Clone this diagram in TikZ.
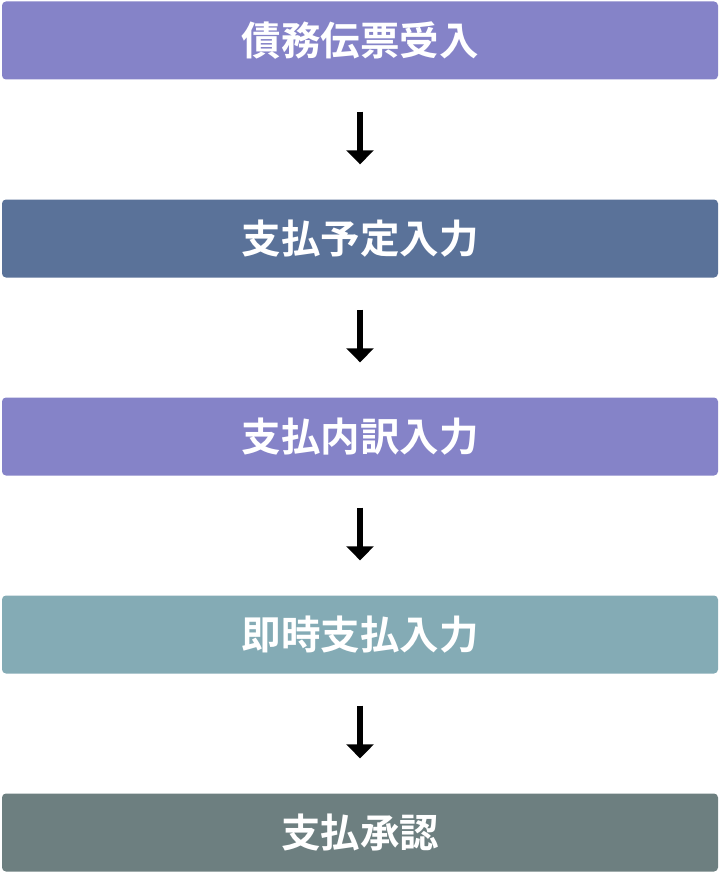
\documentclass[tikz,border=0pt]{standalone}
\usepackage{fontspec}
\newfontfamily\cjk{Noto Sans CJK JP}[BoldFont={Noto Sans CJK JP Bold}]
\usetikzlibrary{arrows.meta}
\definecolor{cpurple}{HTML}{8583C8}
\definecolor{cnavy}{HTML}{5A7299}
\definecolor{cteal}{HTML}{84ABB5}
\definecolor{cgray}{HTML}{6D7F80}
\tikzset{
  stepbox/.style={rectangle, rounded corners=4pt, minimum width=716pt, minimum height=78pt,
    inner sep=0pt, text=white, font=\cjk\bfseries\fontsize{39.5}{42}\selectfont},
  flow/.style={line width=6pt, -{Triangle[width=27pt,length=14pt]}}
}
\begin{document}
\begin{tikzpicture}[x=1pt,y=-1pt]
\useasboundingbox (0,0) rectangle (720,880);
\node[stepbox, fill=cpurple] (b1) at (360,40.5) {債務伝票受入};
\node[stepbox, fill=cnavy] (b2) at (360,238.5) {支払予定入力};
\node[stepbox, fill=cpurple] (b3) at (360,436.5) {支払内訳入力};
\node[stepbox, fill=cteal] (b4) at (360,634.5) {即時支払入力};
\node[stepbox, fill=cgray] (b5) at (360,832.5) {支払承認};
\draw[flow] ([yshift=-32pt]b1.south) -- ([yshift=35pt]b2.north);
\draw[flow] ([yshift=-32pt]b2.south) -- ([yshift=35pt]b3.north);
\draw[flow] ([yshift=-32pt]b3.south) -- ([yshift=35pt]b4.north);
\draw[flow] ([yshift=-32pt]b4.south) -- ([yshift=35pt]b5.north);
\end{tikzpicture}
\end{document}
